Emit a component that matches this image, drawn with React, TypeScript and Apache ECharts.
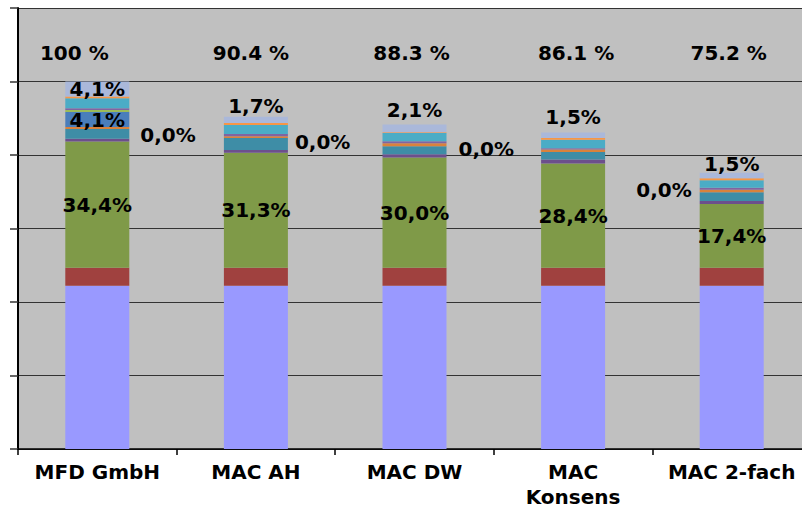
import React, { useEffect, useRef } from "react";
import * as echarts from "echarts";

const categories = ["MFD GmbH", "MAC AH", "MAC DW", "MAC\nKonsens", "MAC 2-fach"];
const totalLabels = ["100 %", "90.4 %", "88.3 %", "86.1 %", "75.2 %"];

const baseShare = [44.4, 44.4, 44.4, 44.4, 44.4];
const redShare = [4.9, 4.9, 4.9, 4.9, 4.9];
const greenShare = [34.4, 31.3, 30.0, 28.4, 17.4];
const purpleLow = [0.75, 0.75, 0.9, 1.1, 0.8];
const tealShare = [2.65, 3.25, 2.2, 2.0, 2.35];
const orangeLow = [0.5, 0.5, 0.8, 0.7, 0.7];
const blueShare = [4.1, 0, 0, 0, 0];
const greenThin = [0.55, 0, 0, 0, 0];
const purpleHigh = [0.45, 0.6, 0.55, 0.35, 0.55];
const cyanShare = [2.75, 2.45, 2.25, 2.3, 2.0];
const orangeHigh = [0.45, 0.55, 0.2, 0.45, 0.6];
const lightShare = [4.1, 1.7, 2.1, 1.5, 1.5];
const zeroShare = [0, 0, 0, 0, 0];

const FONT = "DejaVu Sans";
const fmt = (v: number) => v.toFixed(1).replace(".", ",") + "%";

const labelBase = {
  fontFamily: FONT,
  fontWeight: "bold" as const,
  fontSize: 20,
  color: "#000",
  formatter: (p: any) => fmt(p.value),
};

export default function App() {
  const ref = useRef<HTMLDivElement>(null);
  useEffect(() => {
    if (!ref.current) return;
    const chart = echarts.init(ref.current, undefined, { renderer: "svg" });

    const mk = (name: string, data: any[], color: string, label?: any) => ({
      name,
      type: "bar",
      stack: "total",
      barWidth: 64,
      data,
      itemStyle: { color },
      label: label || { show: false },
      z: 2,
    });

    const greenData = greenShare.map((v) => ({ value: v, label: { show: true, position: "inside" } }));
    const blueData = blueShare.map((v, i) => ({ value: v, label: { show: i === 0, position: "inside" } }));
    const lightPos = [
      { position: "inside", offset: [0, 0] },
      { position: "top", offset: [0, -1] },
      { position: "top", offset: [0, -4] },
      { position: "top", offset: [0, -6] },
      { position: "top", offset: [0, 1] },
    ];
    const lightData = lightShare.map((v, i) => ({
      value: v,
      label: { show: true, position: lightPos[i].position, distance: 0, offset: lightPos[i].offset },
    }));
    const zeroPos = [
      { show: true, position: "right", distance: 11, offset: [0, 53] },
      { show: true, position: "right", distance: 7, offset: [0, 25] },
      { show: true, position: "right", distance: 12, offset: [0, 25] },
      { show: false, position: "right", distance: 8, offset: [0, 0] },
      { show: true, position: "left", distance: 8, offset: [0, 17] },
    ];
    const zeroData = zeroShare.map((v, i) => ({ value: v, label: zeroPos[i] }));

    const topPad = [
      [0, 46, 0, 0],
      [0, 10, 0, 0],
      [0, 6, 0, 0],
      [0, 0, 0, 6],
      [0, 6, 0, 0],
    ];

    chart.setOption({
      animation: false,
      grid: {
        left: 18,
        top: 8,
        width: 793,
        height: 441,
        show: true,
        backgroundColor: "#C0C0C0",
        borderWidth: 0,
        containLabel: false,
        outerBoundsMode: "none",
      },
      xAxis: [
        {
          type: "category",
          data: categories,
          position: "bottom",
          axisLine: { show: true, lineStyle: { color: "#000", width: 1.5 } },
          axisTick: { show: true, length: 6, lineStyle: { color: "#000", width: 1.5 } },
          axisLabel: {
            interval: 0,
            margin: 10,
            fontFamily: FONT,
            fontWeight: "bold",
            fontSize: 20,
            color: "#000",
            lineHeight: 25,
          },
        },
        {
          type: "category",
          position: "top",
          data: totalLabels.map((t, i) => ({ value: t, textStyle: { padding: topPad[i] } })),
          axisLine: { show: false },
          axisTick: { show: false },
          axisLabel: {
            inside: true,
            interval: 0,
            margin: 35,
            fontFamily: FONT,
            fontWeight: "bold",
            fontSize: 20,
            color: "#000",
          },
        },
      ],
      yAxis: {
        type: "value",
        min: 0,
        max: 120,
        interval: 20,
        axisLabel: { show: false },
        axisLine: { show: true, lineStyle: { color: "#000", width: 2 } },
        axisTick: { show: true, length: 8, lineStyle: { color: "#333", width: 1.5 } },
        splitLine: { show: true, lineStyle: { color: "#333", width: 1 } },
      },
      series: [
        mk("Basis", baseShare, "#9999FF"),
        mk("Anteil 2", redShare, "#A0413F"),
        mk("Anteil 3", greenData, "#7F9A48", { ...labelBase, show: false }),
        mk("Anteil 4", purpleLow, "#6C4F8C"),
        mk("Anteil 5", tealShare, "#3E8DA6"),
        mk("Anteil 6", orangeLow, "#D9823C"),
        mk("Anteil 7", blueData, "#4A7EBB", { ...labelBase, show: false }),
        mk("Anteil 8", greenThin, "#9BBB59"),
        mk("Anteil 9", purpleHigh, "#8064A2"),
        mk("Anteil 10", cyanShare, "#4BACC6"),
        mk("Anteil 11", orangeHigh, "#F79646"),
        mk("Anteil 12", lightData, "#AAB8DA", { ...labelBase, show: false }),
        mk("Anteil 13", zeroData, "#AAB8DA", { ...labelBase, show: false }),
      ],
    });
    return () => chart.dispose();
  }, []);
  return (
    <div
      ref={ref}
      style={{ position: "absolute", left: 0, top: 0, width: 802, height: 511, background: "#fff" }}
    />
  );
}
